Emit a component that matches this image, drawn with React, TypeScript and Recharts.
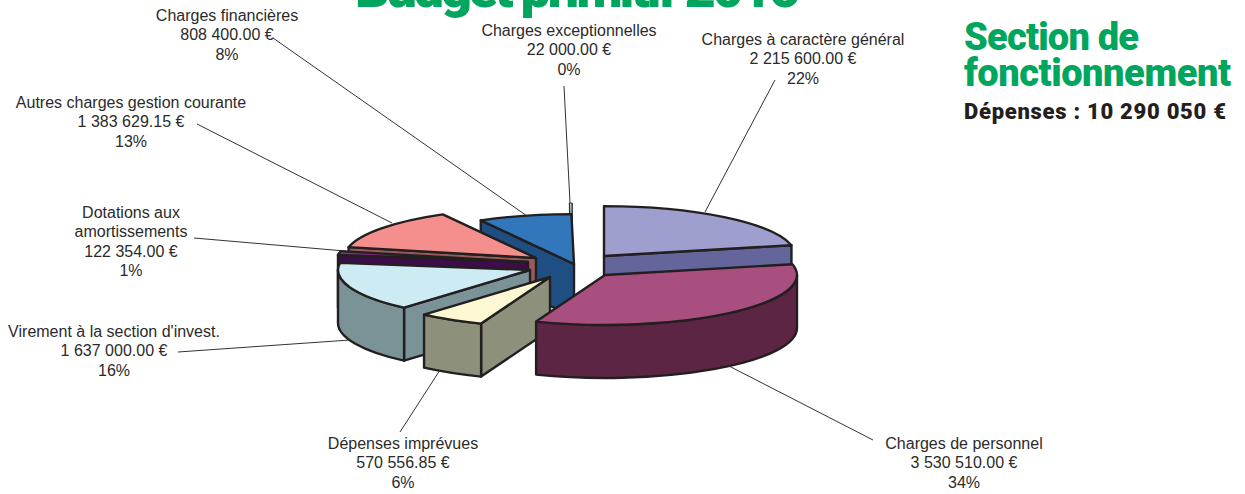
import { Pie, PieChart } from "recharts";

// slices are listed back to front so the nearer ones paint over the farther ones
const categories = [
  "Charges à caractère général",
  "Charges exceptionnelles",
  "Charges financières",
  "Autres charges gestion courante",
  "Dotations aux amortissements",
  "Virement à la section d'invest.",
  "Dépenses imprévues",
  "Charges de personnel",
];
const amounts = [
  2215600, 22000, 808400, 1383629.15, 122354, 1637000, 570556.85, 3530510,
];
const amountLabels = [
  "2 215 600.00 €",
  "22 000.00 €",
  "808 400.00 €",
  "1 383 629.15 €",
  "122 354.00 €",
  "1 637 000.00 €",
  "570 556.85 €",
  "3 530 510.00 €",
];
const percentLabels = ["22%", "0%", "8%", "13%", "1%", "16%", "6%", "34%"];

const topColors = ["#9e9fce", "#b9d0e0", "#3277bc", "#f48f8e", "#8a2a8a", "#cdebf3", "#fbf8d3", "#a94f80"];
const sideColors = ["#63659b", "#8fa5b8", "#1f4e82", "#985a5c", "#3e0c4a", "#7a9396", "#8d917b", "#5c2543"];

// how far each slice is pulled out of the pie, px
const explode = [
  [44, -6],
  [12, -9],
  [14, 2],
  [-24, -4],
  [-32, 0],
  [-30, 8],
  [-10, 15],
  [45, 13],
];

// label text lines, anchor and leader line
const labelLines = [
  ["Charges à caractère général"],
  ["Charges exceptionnelles"],
  ["Charges financières"],
  ["Autres charges gestion courante"],
  ["Dotations aux", "amortissements"],
  ["Virement à la section d'invest."],
  ["Dépenses imprévues"],
  ["Charges de personnel"],
];
const labelAnchors = [
  [803, 45],
  [569, 36],
  [227, 21],
  [131, 108],
  [131, 218],
  [114, 337],
  [403, 449],
  [964, 449],
];
const leaders = [
  [775, 80, 705, 212],
  [564, 86, 570, 203],
  [273, 38, 527, 216],
  [197, 124, 392, 223],
  [194, 238, 345, 251],
  [178, 352, 350, 340],
  [440, 370, 400, 432],
  [727, 365, 873, 440],
];

const CX = 560;
const CY = 262;
const RADIUS = 192;
const SQUASH = 0.26;
const DEPTH = 53;
const OUTLINE = "#231f20";
const total = amounts.reduce((sum, v) => sum + v, 0);
const firstAngle = 90 - (360 * amounts[0]) / total;

const chartData = categories.map((name, i) => ({ name, value: amounts[i] }));

function Slice3D(props: any) {
  const { name, startAngle, endAngle, outerRadius } = props;
  const i = categories.indexOf(name ?? props.payload?.name);
  const x0 = props.cx + explode[i][0];
  const y0 = props.cy + explode[i][1];
  const rx = outerRadius;
  const ry = outerRadius * SQUASH;
  const at = (deg: number, drop = 0) => {
    const a = (deg * Math.PI) / 180;
    return `${x0 + rx * Math.cos(a)} ${y0 - ry * Math.sin(a) + drop}`;
  };
  const arc = (from: number, to: number, drop = 0) =>
    `A ${rx} ${ry} 0 ${Math.abs(to - from) > 180 ? 1 : 0} ${to > from ? 0 : 1} ${at(to, drop)}`;
  const wall = (deg: number) =>
    `M ${x0} ${y0} L ${at(deg)} L ${at(deg, DEPTH)} L ${x0} ${y0 + DEPTH} Z`;

  const common = {
    stroke: OUTLINE,
    // the 0% sliver would be all outline otherwise
    strokeWidth: endAngle - startAngle < 2 ? 0.9 : 2.4,
    strokeLinejoin: "round" as const,
  };
  const cos = (deg: number) => Math.cos((deg * Math.PI) / 180);
  const arcFrom = Math.max(startAngle, 180);
  const arcTo = Math.min(endAngle, 360);

  return (
    <g>
      {cos(startAngle) > 0 && <path d={wall(startAngle)} fill={sideColors[i]} {...common} />}
      {cos(endAngle) < 0 && <path d={wall(endAngle)} fill={sideColors[i]} {...common} />}
      {arcFrom < arcTo && (
        <path
          d={`M ${at(arcFrom)} ${arc(arcFrom, arcTo)} L ${at(arcTo, DEPTH)} ${arc(arcTo, arcFrom, DEPTH)} Z`}
          fill={sideColors[i]}
          {...common}
        />
      )}
      <path
        d={`M ${x0} ${y0} L ${at(startAngle)} ${arc(startAngle, endAngle)} Z`}
        fill={topColors[i]}
        {...common}
      />
    </g>
  );
}

function SliceLabel({ index }: any) {
  const [x, y] = labelAnchors[index];
  const [x1, y1, x2, y2] = leaders[index];
  const lines = [...labelLines[index], amountLabels[index], percentLabels[index]];
  return (
    <g>
      <line x1={x1} y1={y1} x2={x2} y2={y2} stroke="#333" strokeWidth={1} />
      <text
        x={x}
        y={y}
        textAnchor="middle"
        fontFamily="'Liberation Sans', Arial, sans-serif"
        fontSize={16}
        fill="#2b2b2b"
      >
        {lines.map((line, k) => (
          <tspan key={k} x={x} y={y + k * 19.4}>
            {line}
          </tspan>
        ))}
      </text>
    </g>
  );
}

export default function App() {
  return (
    <div style={{ position: "absolute", left: 0, top: 0, width: 1245, height: 494 }}>
      <PieChart width={1245} height={494} margin={{ top: 0, right: 0, bottom: 0, left: 0 }}>
        <Pie
          data={chartData}
          dataKey="value"
          nameKey="name"
          cx={CX}
          cy={CY}
          innerRadius={0}
          outerRadius={RADIUS}
          startAngle={firstAngle}
          endAngle={firstAngle + 360}
          isAnimationActive={false}
          shape={Slice3D}
          label={SliceLabel}
          labelLine={false}
        />
        <text x={355} y={7} fontFamily="Roboto, sans-serif" fontWeight={900} fontSize={54} fill="#00a65d" textLength={445}>
          Budget primitif 2016
        </text>
        <text x={964} y={50} fontFamily="Roboto, sans-serif" fontWeight={900} fontSize={38} fill="#00a65d" textLength={175}>
          Section de
        </text>
        <text x={964} y={86} fontFamily="Roboto, sans-serif" fontWeight={900} fontSize={38} fill="#00a65d" textLength={267}>
          fonctionnement
        </text>
        <text x={964} y={119} fontFamily="Roboto, sans-serif" fontWeight={900} fontSize={22} fill="#231f20" textLength={262}>
          Dépenses : 10 290 050 €
        </text>
      </PieChart>
    </div>
  );
}
